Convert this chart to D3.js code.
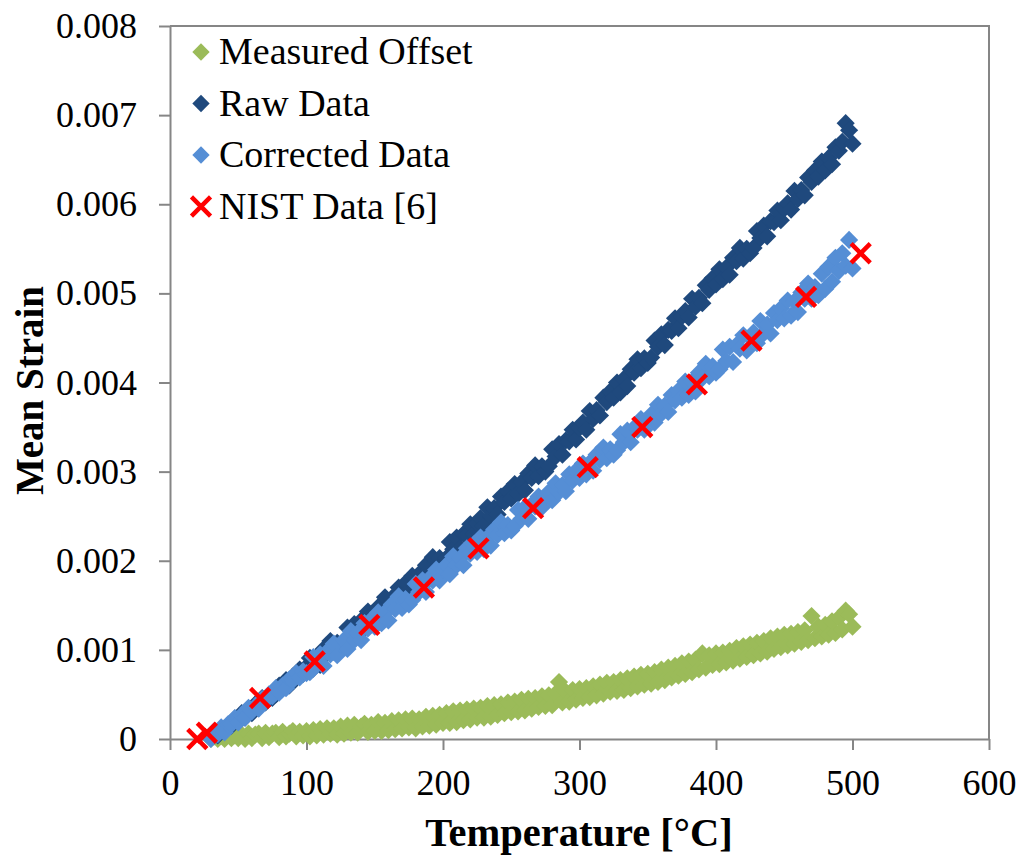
<!DOCTYPE html>
<html>
<head>
<meta charset="utf-8">
<script src="https://cdn.jsdelivr.net/npm/d3@7"></script>
<style>
  body { margin: 0; background: #fff; }
</style>
</head>
<body>
<script>
// temperatures [°C] shared by the three measured series
var temps = [30, 32.5, 35, 37.5, 40, 42.5, 45, 47.5, 50,
  52.5, 55, 57.5, 60, 62.5, 65, 67.5, 70, 72.5, 75,
  77.5, 80, 82.5, 85, 87.5, 90, 92.5, 95, 97.5, 100,
  102.5, 105, 107.5, 110, 112.5, 115, 117.5, 120, 122.5, 125,
  127.5, 130, 132.5, 135, 137.5, 140, 142.5, 145, 147.5, 150,
  152.5, 155, 157.5, 160, 162.5, 165, 167.5, 170, 172.5, 175,
  177.5, 180, 182.5, 185, 187.5, 190, 192.5, 195, 197.5, 200,
  202.5, 205, 207.5, 210, 212.5, 215, 217.5, 220, 222.5, 225,
  227.5, 230, 232.5, 235, 237.5, 240, 242.5, 245, 247.5, 250,
  252.5, 255, 257.5, 260, 262.5, 265, 267.5, 270, 272.5, 275,
  277.5, 280, 282.5, 285, 287.5, 290, 292.5, 295, 297.5, 300,
  302.5, 305, 307.5, 310, 312.5, 315, 317.5, 320, 322.5, 325,
  327.5, 330, 332.5, 335, 337.5, 340, 342.5, 345, 347.5, 350,
  352.5, 355, 357.5, 360, 362.5, 365, 367.5, 370, 372.5, 375,
  377.5, 380, 382.5, 385, 387.5, 390, 392.5, 395, 397.5, 400,
  402.5, 405, 407.5, 410, 412.5, 415, 417.5, 420, 422.5, 425,
  427.5, 430, 432.5, 435, 437.5, 440, 442.5, 445, 447.5, 450,
  452.5, 455, 457.5, 460, 462.5, 465, 467.5, 470, 472.5, 475,
  477.5, 480, 482.5, 485, 487.5, 490, 492.5, 495, 497.5, 500]

// strains in microstrain
var offsetData = [0, 30, 0, 40, 0, 50, 10, 40, 10,
  50, 0, 60, 10, 50, 60, 10, 70, 20, 60,
  70, 20, 80, 30, 60, 90, 30, 80, 40, 90,
  30, 100, 40, 110, 50, 120, 60, 120, 50, 140,
  60, 150, 70, 160, 70, 140, 170, 80, 160, 90,
  190, 90, 180, 100, 200, 110, 210, 120, 220, 130,
  230, 120, 220, 140, 250, 150, 260, 160, 270, 180,
  290, 180, 310, 190, 320, 210, 330, 220, 340, 240,
  350, 240, 370, 250, 380, 270, 390, 290, 410, 300,
  420, 310, 440, 320, 450, 340, 460, 360, 480, 370,
  490, 380, 510, 640, 410, 530, 420, 550, 440, 560,
  460, 570, 470, 590, 490, 610, 510, 630, 530, 640,
  540, 660, 550, 680, 570, 700, 590, 720, 610, 730,
  620, 750, 640, 780, 660, 800, 690, 820, 710, 850,
  730, 870, 750, 890, 780, 960, 800, 940, 830, 960,
  840, 970, 860, 990, 880, 1020, 900, 1040, 920, 1060,
  940, 1080, 960, 1100, 980, 1130, 1010, 1150, 1030, 1170,
  1050, 1180, 1070, 1200, 1090, 1220, 1110, 1380, 1130, 1260,
  1150, 1280, 1170, 1320, 1190, 1360, 1230, 1440, 1400, 1260]

var rawData = [20, 65, 40, 115, 110, 150, 150, 230, 200,
  290, 240, 320, 290, 390, 380, 460, 410, 480, 460,
  500, 600, 570, 660, 600, 700, 700, 780, 730, 810,
  910, 790, 920, 830, 1010, 960, 1100, 980, 1080, 1020,
  1070, 1250, 1160, 1290, 1170, 1330, 1310, 1430, 1310, 1430,
  1480, 1390, 1590, 1490, 1580, 1510, 1700, 1640, 1750, 1670,
  1830, 1720, 1850, 1760, 1950, 1900, 2040, 1920, 2030, 1970,
  2030, 2210, 2130, 2260, 2140, 2300, 2290, 2410, 2300, 2420,
  2480, 2390, 2600, 2500, 2590, 2520, 2720, 2660, 2780, 2700,
  2860, 2750, 2880, 2790, 2980, 2930, 3070, 2950, 3060, 3000,
  3060, 3250, 3170, 3310, 3190, 3350, 3340, 3470, 3360, 3490,
  3550, 3470, 3680, 3590, 3690, 3630, 3830, 3780, 3900, 3830,
  4000, 3890, 4040, 3960, 4150, 4110, 4260, 4160, 4270, 4220,
  4280, 4470, 4400, 4540, 4420, 4590, 4580, 4720, 4610, 4740,
  4800, 4730, 4940, 4850, 4950, 4890, 5090, 5040, 5170, 5100,
  5270, 5160, 5290, 5210, 5400, 5360, 5510, 5390, 5500, 5450,
  5510, 5700, 5620, 5760, 5640, 5810, 5800, 5930, 5820, 5950,
  6010, 5940, 6150, 6060, 6160, 6100, 6300, 6250, 6380, 6310,
  6480, 6380, 6520, 6450, 6640, 6600, 6700, 6910, 6830, 6680]

var correctedData = [0, 90, 55, 130, 75, 165, 165, 235, 185,
  270, 240, 350, 310, 370, 340, 450, 430, 500, 480,
  570, 520, 600, 570, 670, 660, 740, 690, 760, 740,
  750, 920, 830, 950, 820, 980, 950, 1070, 940, 1060,
  1110, 1010, 1210, 1110, 1190, 1110, 1300, 1240, 1340, 1260,
  1420, 1300, 1420, 1330, 1510, 1460, 1600, 1470, 1570, 1510,
  1560, 1740, 1650, 1780, 1650, 1800, 1780, 1900, 1780, 1900,
  1950, 1850, 2050, 1950, 2030, 1950, 2140, 2080, 2180, 2100,
  2260, 2130, 2260, 2170, 2350, 2290, 2430, 2310, 2400, 2340,
  2390, 2570, 2470, 2600, 2470, 2630, 2610, 2720, 2600, 2720,
  2770, 2680, 2870, 2770, 2850, 2780, 2970, 2900, 3010, 2930,
  3090, 2970, 3100, 3010, 3190, 3130, 3270, 3150, 3250, 3190,
  3240, 3420, 3330, 3460, 3330, 3490, 3470, 3590, 3470, 3590,
  3640, 3550, 3750, 3650, 3740, 3670, 3860, 3800, 3910, 3830,
  4010, 3860, 4010, 3900, 4110, 4050, 4210, 4070, 4180, 4110,
  4150, 4370, 4240, 4400, 4230, 4420, 4380, 4530, 4360, 4510,
  4560, 4440, 4690, 4550, 4650, 4550, 4780, 4700, 4830, 4720,
  4920, 4750, 4910, 4790, 5010, 4940, 5110, 4940, 5070, 4980,
  5220, 5050, 5300, 5130, 5400, 5250, 5450, 5310, 5600, 5280]

var nistTemps = [20, 27, 66, 106, 146, 186, 226, 266, 306, 346, 386, 426, 466, 506]
var nistData = [0, 70, 460, 870, 1280, 1700, 2140, 2590, 3050, 3500, 3980, 4470, 4960, 5450]

var xTicks = [0, 100, 200, 300, 400, 500, 600]
var yTicks = [0, 0.001, 0.002, 0.003, 0.004, 0.005, 0.006, 0.007, 0.008]

var legendNames = ["Measured Offset", "Raw Data", "Corrected Data", "NIST Data [6]"]
var colors = ["#9BBB59", "#1F497D", "#558ED5", "#FF0000"]

var width = 1021, height = 857
var margin = {top: 26, right: 32, bottom: 118, left: 170}
var w = width - margin.left - margin.right,
    h = height - margin.top - margin.bottom

var svg = d3.select("body").append("svg")
    .attr("width", width)
    .attr("height", height)
    .style("font-family", "'Liberation Serif', 'Times New Roman', serif")

var g = svg.append("g").attr("transform", "translate(" + margin.left + "," + margin.top + ")")

var x = d3.scaleLinear().domain([0, 600]).range([0, w])
var y = d3.scaleLinear().domain([0, 0.008]).range([h, 0])

var grey = "#868686"

// frame (top and right)
g.append("path")
    .attr("d", "M0,0H" + w + "V" + h)
    .attr("fill", "none").attr("stroke", grey).attr("stroke-width", 2)

var xAxis = g.append("g")
    .attr("transform", "translate(0," + h + ")")
    .call(d3.axisBottom(x).tickValues(xTicks).tickSize(11).tickSizeOuter(0).tickPadding(19))
var yAxis = g.append("g")
    .call(d3.axisLeft(y).tickValues(yTicks).tickSize(11).tickSizeOuter(0).tickPadding(22)
      .tickFormat(function(d) { return d === 0 ? "0" : d3.format(".3f")(d) }))

;[xAxis, yAxis].forEach(function(a) {
  a.attr("font-family", null).attr("font-size", null)
  a.select(".domain").attr("stroke", grey).attr("stroke-width", 2)
  a.selectAll(".tick line").attr("stroke", grey).attr("stroke-width", 2)
  a.selectAll(".tick text").attr("fill", "#000").style("font-size", "36px")
})

var diamond = d3.symbol(d3.symbolSquare, 165)

function drawSeries(vals, color) {
  g.append("g").selectAll("path")
    .data(vals)
    .join("path")
    .attr("d", diamond)
    .attr("fill", color)
    .attr("transform", function(d, i) {
      return "translate(" + x(temps[i]) + "," + y(d / 1e6) + ") rotate(45)"
    })
}

drawSeries(offsetData, colors[0])
drawSeries(rawData, colors[1])
drawSeries(correctedData, colors[2])

var cross = d3.symbol(d3.symbolTimes, 240)
g.append("g").selectAll("path")
  .data(nistData)
  .join("path")
  .attr("d", cross)
  .attr("fill", "none")
  .attr("stroke", colors[3])
  .attr("stroke-width", 4.5)
  .attr("transform", function(d, i) {
    return "translate(" + x(nistTemps[i]) + "," + y(d / 1e6) + ")"
  })

// legend
var legend = svg.append("g")
legendNames.forEach(function(name, i) {
  var ly = 52 + i * 51.5
  var mark = legend.append("path")
    .attr("transform", "translate(201," + ly + ")" + (i < 3 ? " rotate(45)" : ""))
  if (i < 3) {
    mark.attr("d", d3.symbol(d3.symbolSquare, 150)).attr("fill", colors[i])
  } else {
    mark.attr("d", cross).attr("fill", "none").attr("stroke", colors[3]).attr("stroke-width", 4.5)
  }
  legend.append("text")
    .attr("x", 219)
    .attr("y", ly + 12)
    .style("font-size", "38px")
    .text(name)
})

// axis titles
svg.append("text")
    .attr("x", 579)
    .attr("y", 846)
    .attr("text-anchor", "middle")
    .style("font-size", "40.5px")
    .style("font-weight", "bold")
    .text("Temperature [°C]")

svg.append("text")
    .attr("transform", "translate(43," + (margin.top + h / 2 + 8) + ") rotate(-90)")
    .attr("text-anchor", "middle")
    .style("font-size", "39px")
    .style("font-weight", "bold")
    .text("Mean Strain")
</script>
</body>
</html>
